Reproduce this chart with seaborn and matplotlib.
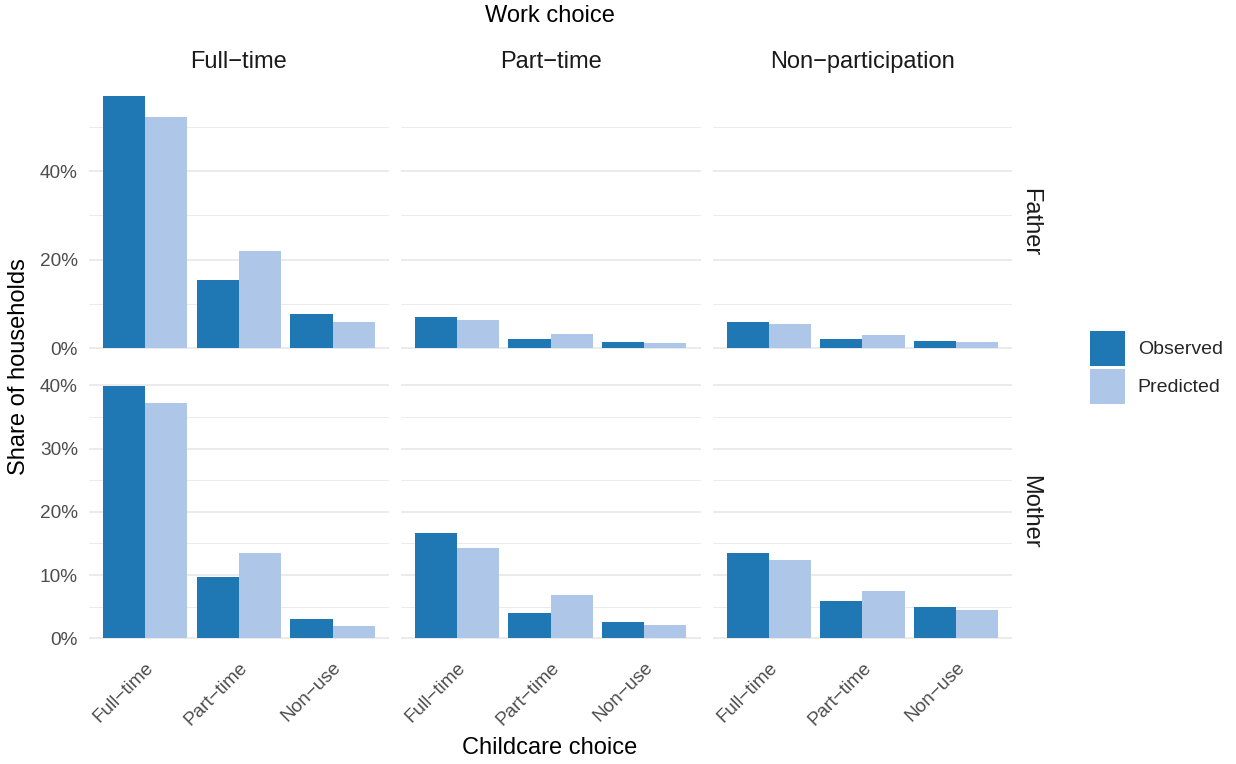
import matplotlib
matplotlib.use("Agg")
import matplotlib.pyplot as plt
from matplotlib.ticker import FuncFormatter, MultipleLocator
from matplotlib.patches import Patch
import seaborn as sns
import pandas as pd

sns.set_theme(style="white")
plt.rcParams["font.family"] = ["Liberation Sans", "DejaVu Sans"]

# Facet levels
parents = ["Father", "Mother"]
work_choices = ["Full\u2212time", "Part\u2212time", "Non\u2212participation"]
childcare = ["Full\u2212time", "Part\u2212time", "Non\u2212use"]
sources = ["Observed", "Predicted"]

# Shares of households (%), ordered by childcare choice within each work choice
father_observed = [[57.0, 15.4, 7.7], [7.0, 2.0, 1.35], [5.9, 2.0, 1.6]]
father_predicted = [[52.2, 22.0, 5.9], [6.3, 3.2, 1.1], [5.4, 2.9, 1.35]]
mother_observed = [[39.9, 9.7, 3.05], [16.7, 4.05, 2.6], [13.5, 5.95, 5.0]]
mother_predicted = [[37.2, 13.5, 1.95], [14.3, 6.9, 2.15], [12.4, 7.5, 4.4]]

values = {
    ("Father", "Observed"): father_observed,
    ("Father", "Predicted"): father_predicted,
    ("Mother", "Observed"): mother_observed,
    ("Mother", "Predicted"): mother_predicted,
}

rows = []
for parent in parents:
    for src in sources:
        for wi, work in enumerate(work_choices):
            for ci, care in enumerate(childcare):
                rows.append({"parent": parent, "work": work, "care": care,
                             "source": src, "share": values[(parent, src)][wi][ci]})
df = pd.DataFrame(rows)

palette = {"Observed": "#1f78b4", "Predicted": "#aec7e8"}
grid_col = "#ebebeb"
tick_col = "#4d4d4d"
strip_col = "#1a1a1a"
title_size = 17
tick_size = 13.7

fig, axes = plt.subplots(2, 3, figsize=(12.36, 7.64), dpi=100, sharey="row")
fig.subplots_adjust(left=0.072, right=0.819, top=0.891, bottom=0.148,
                    wspace=0.04, hspace=0.045)

for r, parent in enumerate(parents):
    row_max = df.loc[df.parent == parent, "share"].max()
    for c, work in enumerate(work_choices):
        ax = axes[r, c]
        sub = df[(df.parent == parent) & (df.work == work)]
        sns.barplot(data=sub, x="care", y="share", hue="source", order=childcare,
                    hue_order=sources, palette=palette, width=0.9, saturation=1,
                    edgecolor="none", legend=False, ax=ax)
        ax.set_ylim(-row_max * 0.05, row_max * 1.05)
        ax.set_xlim(-0.6, 2.6)
        major = 20 if parent == "Father" else 10
        ax.yaxis.set_major_locator(MultipleLocator(major))
        ax.yaxis.set_minor_locator(MultipleLocator(major / 2))
        ax.yaxis.set_major_formatter(FuncFormatter(lambda v, p: f"{v:.0f}%"))
        ax.grid(axis="y", which="major", color=grid_col, linewidth=1.4)
        ax.grid(axis="y", which="minor", color=grid_col, linewidth=0.7)
        ax.grid(axis="x", visible=False)
        ax.set_axisbelow(True)
        for s in ax.spines.values():
            s.set_visible(False)
        ax.set_xlabel("")
        ax.set_ylabel("")
        ax.tick_params(axis="y", length=0, labelsize=tick_size, colors=tick_col, pad=8)
        ax.tick_params(axis="x", length=0, labelsize=tick_size, colors=tick_col, pad=6)
        if r == 0:
            ax.set_xticklabels([])
            pos = ax.get_position()
            fig.text((pos.x0 + pos.x1) / 2, 1 - 62 / 764, work, ha="center",
                     va="center", fontsize=title_size, color=strip_col)
        else:
            ax.set_xticks(range(len(childcare)))
            ax.set_xticklabels(childcare, rotation=45, ha="right",
                               rotation_mode="anchor")
        if c > 0:
            ax.tick_params(axis="y", labelleft=False)
        if c == 2:
            ax.text(1.06, 0.5, parent, transform=ax.transAxes, rotation=-90,
                    ha="center", va="center", fontsize=title_size, color=strip_col)

fig.text(0.445, 1 - 16 / 764, "Work choice", ha="center", va="center",
         fontsize=title_size, color="black")
fig.text(0.445, 1 - 748 / 764, "Childcare choice", ha="center", va="center",
         fontsize=title_size, color="black")
fig.text(0.015, 1 - 367 / 764, "Share of households", ha="center", va="center",
         rotation=90, fontsize=title_size, color="black")

handles = [Patch(facecolor=palette[s], edgecolor="none", label=s) for s in sources]
fig.legend(handles=handles, loc="center left",
           bbox_to_anchor=(1090 / 1236, 1 - 367.5 / 764),
           frameon=False, fontsize=14, handlelength=1.8, handleheight=2.4,
           handletextpad=0.65, labelspacing=0.15, borderaxespad=0,
           borderpad=0)

fig.savefig("out.png", dpi=100)
